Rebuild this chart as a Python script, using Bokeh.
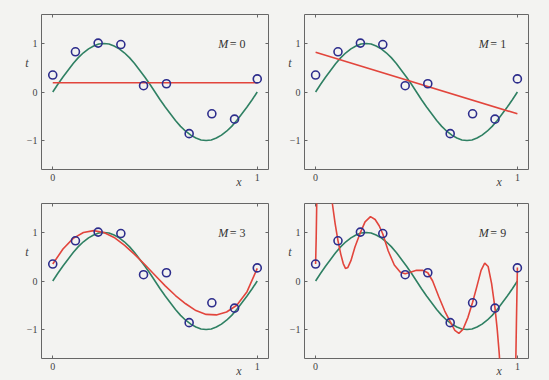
from bokeh.plotting import figure
from bokeh.layouts import gridplot
from bokeh.models import FixedTicker, LinearAxis, Label
from bokeh.embed import file_html
from bokeh.resources import INLINE

# ---- data ----
x_data = [0.0, 0.111, 0.222, 0.333, 0.444, 0.556, 0.667, 0.778, 0.889, 1.0]
t_data = [0.35, 0.83, 1.01, 0.98, 0.13, 0.17, -0.86, -0.45, -0.56, 0.27]

x_true = [0.0, 0.025, 0.05, 0.075, 0.1, 0.125, 0.15, 0.175, 0.2, 0.225, 0.25,
          0.275, 0.3, 0.325, 0.35, 0.375, 0.4, 0.425, 0.45, 0.475, 0.5,
          0.525, 0.55, 0.575, 0.6, 0.625, 0.65, 0.675, 0.7, 0.725, 0.75,
          0.775, 0.8, 0.825, 0.85, 0.875, 0.9, 0.925, 0.95, 0.975, 1.0]
t_true = [0.0, 0.16, 0.31, 0.45, 0.59, 0.71, 0.81, 0.89, 0.95, 0.99, 1.0,
          0.99, 0.95, 0.89, 0.81, 0.71, 0.59, 0.45, 0.31, 0.16, 0.0,
          -0.16, -0.31, -0.45, -0.59, -0.71, -0.81, -0.89, -0.95, -0.99, -1.0,
          -0.99, -0.95, -0.89, -0.81, -0.71, -0.59, -0.45, -0.31, -0.16, 0.0]

fit0_x = [0.0, 1.0]
fit0_t = [0.19, 0.19]

fit1_x = [0.0, 1.0]
fit1_t = [0.82, -0.45]

fit3_x = [0.0, 0.05, 0.1, 0.15, 0.2, 0.25, 0.3, 0.35, 0.4, 0.45, 0.5,
          0.55, 0.6, 0.65, 0.7, 0.75, 0.8, 0.85, 0.9, 0.95, 1.0]
fit3_t = [0.35, 0.66, 0.88, 1.0, 1.04, 1.0, 0.9, 0.74, 0.55, 0.34, 0.12,
          -0.1, -0.3, -0.47, -0.61, -0.69, -0.7, -0.64, -0.5, -0.22, 0.26]

fit9_x = [0.0, 0.003, 0.006, 0.01, 0.075, 0.083, 0.097, 0.111, 0.125, 0.137,
          0.148, 0.16, 0.175, 0.195, 0.222, 0.245, 0.272, 0.295, 0.315, 0.333,
          0.36, 0.39, 0.42, 0.444, 0.47, 0.5, 0.53, 0.556, 0.58, 0.61, 0.64,
          0.667, 0.69, 0.71, 0.73, 0.755, 0.778, 0.8, 0.82, 0.838, 0.855,
          0.872, 0.889, 0.9, 0.91, 0.92, 0.99, 0.995, 1.0]
fit9_t = [0.35, 0.9, 1.7, 2.5, 2.5, 1.6, 1.18, 0.83, 0.55, 0.36,
          0.26, 0.28, 0.42, 0.7, 1.0, 1.22, 1.33, 1.27, 1.14, 0.97,
          0.62, 0.33, 0.18, 0.15, 0.18, 0.22, 0.22, 0.17, 0.0, -0.32, -0.62,
          -0.84, -1.02, -1.08, -1.0, -0.75, -0.44, -0.1, 0.22, 0.37, 0.3,
          -0.05, -0.56, -1.0, -1.5, -2.2, -2.2, -0.9, 0.28]

fits = [(fit0_x, fit0_t, "0"), (fit1_x, fit1_t, "1"),
        (fit3_x, fit3_t, "3"), (fit9_x, fit9_t, "9")]

x_ticks = [0, 1]
y_ticks = [-1, 0, 1]
y_tick_labels = {-1: "\u22121", 0: "0", 1: "1"}
x_name, x_name_pos = "x", 0.91
t_name, t_name_pos = "t", 0.6

# ---- style ----
BG = "#f3f3f1"
GREEN = "#2f8063"
RED = "#e2453c"
NAVY = "#2d2d8c"
FRAME = "#666666"
TXT = "#444444"
FONT = "Liberation Serif"

layout_specs = [
    dict(width=285, height=191, l=41, r=17, t=14, b=20),
    dict(width=264, height=191, l=17, r=21, t=14, b=20),
    dict(width=285, height=189, l=41, r=17, t=12, b=19),
    dict(width=264, height=189, l=17, r=21, t=12, b=19),
]


def style_axis(ax, labels=True):
    ax.major_tick_in = 3
    ax.major_tick_out = 0
    ax.minor_tick_line_color = None
    ax.axis_line_color = None
    ax.major_tick_line_color = FRAME
    ax.major_label_text_font = FONT
    ax.major_label_text_font_size = "10px"
    ax.major_label_text_color = TXT if labels else None


def make_panel(spec, fx, ft, mlabel):
    p = figure(width=spec["width"], height=spec["height"],
               x_range=(-0.055, 1.055), y_range=(-1.6, 1.6),
               output_backend="svg", toolbar_location=None,
               min_border_left=spec["l"], min_border_right=spec["r"],
               min_border_top=spec["t"], min_border_bottom=spec["b"],
               background_fill_color=BG, border_fill_color=BG)
    p.grid.visible = False
    p.outline_line_color = FRAME
    p.outline_line_width = 1

    style_axis(p.xaxis[0])
    style_axis(p.yaxis[0])
    p.xaxis[0].ticker = FixedTicker(ticks=x_ticks)
    p.yaxis[0].ticker = FixedTicker(ticks=y_ticks)
    p.yaxis[0].major_label_overrides = y_tick_labels
    p.xaxis[0].major_label_standoff = 4
    p.yaxis[0].major_label_standoff = 4

    # inner ticks on the top and right edges (no labels painted)
    top = LinearAxis(ticker=FixedTicker(ticks=x_ticks))
    right = LinearAxis(ticker=FixedTicker(ticks=y_ticks))
    for ax in (top, right):
        style_axis(ax, labels=False)
        ax.major_label_text_font_size = "1px"
        ax.major_label_standoff = 0
    p.add_layout(top, "above")
    p.add_layout(right, "right")

    # axis names drawn as one-tick axes stacked beside the numeric ones
    xname = LinearAxis(ticker=FixedTicker(ticks=[x_name_pos]),
                       major_label_overrides={x_name_pos: x_name})
    tname = LinearAxis(ticker=FixedTicker(ticks=[t_name_pos]),
                       major_label_overrides={t_name_pos: t_name})
    for ax in (xname, tname):
        style_axis(ax)
        ax.major_tick_line_color = None
        ax.major_label_text_font_style = "italic"
        ax.major_label_text_font_size = "12px"
    xname.major_label_standoff = -9
    tname.major_label_standoff = -5
    p.add_layout(xname, "below")
    p.add_layout(tname, "left")

    p.line(x_true, t_true, line_color=GREEN, line_width=1.6)
    p.line(fx, ft, line_color=RED, line_width=1.6)
    p.scatter(x_data, t_data, marker="circle", size=8, fill_color=None,
              line_color=NAVY, line_width=1.6)

    p.add_layout(Label(x=0.858, y=1.0, text="M", text_font=FONT,
                       text_font_style="italic", text_font_size="12px",
                       text_color="#333333", text_align="right",
                       text_baseline="middle"))
    p.add_layout(Label(x=0.866, y=1.0, text="= " + mlabel, text_font=FONT,
                       text_font_size="12px", text_color="#333333",
                       text_align="left", text_baseline="middle"))
    return p


panels = [make_panel(spec, fx, ft, m)
          for spec, (fx, ft, m) in zip(layout_specs, fits)]

grid = gridplot([[panels[0], panels[1]], [panels[2], panels[3]]],
                toolbar_location=None)
grid.styles = {"background-color": BG}

open("out.html", "w").write(file_html(grid, INLINE))
